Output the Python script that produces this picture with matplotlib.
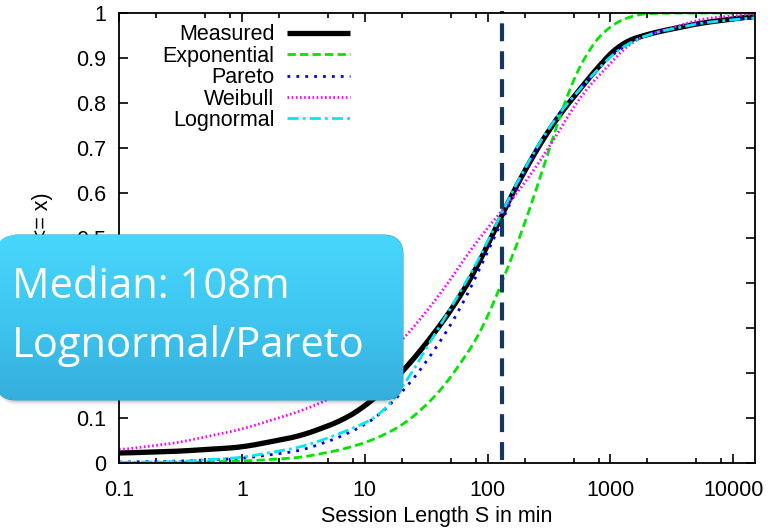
import numpy as np
import matplotlib.pyplot as plt
from matplotlib.patches import FancyBboxPatch
from matplotlib.ticker import FixedLocator, NullFormatter
from matplotlib.colors import LinearSegmentedColormap

plt.rcParams['font.family'] = ['Liberation Sans', 'DejaVu Sans']

# CDF curves (session length in minutes -> P(S <= x))
measured_x = [0.1, 0.3, 1, 3, 6.4, 10, 14, 20, 35, 57, 88, 129, 214, 350, 580, 850, 1220, 2130, 5500, 15000]
measured_y = [0.022, 0.026, 0.035, 0.06, 0.093, 0.125, 0.16, 0.20, 0.28, 0.36, 0.45, 0.55, 0.665, 0.76, 0.835,
              0.89, 0.934, 0.955, 0.978, 0.993]

expo_x = [0.1, 0.3, 1, 3, 6.4, 11.8, 22, 41.7, 69, 93, 123, 177, 225, 311, 454, 660, 950, 1600, 3000, 15000]
expo_y = [0.0, 0.001, 0.004, 0.012, 0.029, 0.051, 0.089, 0.16, 0.245, 0.30, 0.385, 0.49, 0.57, 0.69, 0.83,
          0.92, 0.97, 0.998, 1.0, 1.0]

pareto_x = [0.1, 0.3, 1, 3, 6.4, 11.8, 20, 32, 47, 57, 93, 137, 214, 350, 580, 850, 1220, 2130, 5500, 15000]
pareto_y = [0.002, 0.004, 0.01, 0.027, 0.058, 0.095, 0.155, 0.225, 0.295, 0.33, 0.45, 0.55, 0.665, 0.765,
            0.835, 0.885, 0.925, 0.955, 0.978, 0.99]

weibull_x = [0.1, 0.3, 1, 3, 5.6, 10, 20, 40, 80, 130, 200, 350, 580, 850, 1500, 5500, 15000]
weibull_y = [0.029, 0.045, 0.075, 0.115, 0.146, 0.20, 0.27, 0.37, 0.49, 0.56, 0.62, 0.72, 0.82, 0.867, 0.94,
             0.987, 0.998]

lognormal_x = [0.1, 0.3, 1, 3, 5, 10, 14, 22, 28.5, 39, 57, 88, 129, 214, 350, 580, 850, 1220, 2130, 5500, 15000]
lognormal_y = [0.001, 0.003, 0.012, 0.035, 0.055, 0.088, 0.11, 0.18, 0.235, 0.295, 0.37, 0.46, 0.555, 0.67,
               0.765, 0.835, 0.885, 0.925, 0.955, 0.978, 0.99]

median_line = 130
y_ticks = [0, 0.1, 0.2, 0.3, 0.4, 0.5, 0.6, 0.7, 0.8, 0.9, 1]
y_tick_labels = ['0', '0.1', '0.2', '0.3', '0.4', '0.5', '0.6', '0.7', '0.8', '0.9', '1']
x_ticks = [0.1, 1, 10, 100, 1000, 10000]
x_tick_labels = ['0.1', '1', '10', '100', '1000', '10000']

FS = 15.5


def smooth(xs, ys):
    # interpolate in log-x and soften the corners so the lines look like curves
    lx = np.log10(xs)
    grid = np.linspace(lx[0], lx[-1], 400)
    fine = np.interp(grid, lx, ys)
    k = 9
    pad = np.concatenate([np.full(k, fine[0]), fine, np.full(k, fine[-1])])
    fine = np.convolve(pad, np.ones(2 * k + 1) / (2 * k + 1), mode='same')[k:-k]
    return 10 ** grid, fine


fig = plt.figure(figsize=(7.71, 5.32), dpi=100)
ax = fig.add_axes([119 / 771, 1 - 463 / 532, (755 - 119) / 771, 450 / 532])

x, y = smooth(measured_x, measured_y)
ax.plot(x, y, color='black', lw=3.8, label='Measured', solid_capstyle='butt')
x, y = smooth(expo_x, expo_y)
ax.plot(x, y, color='#00e600', lw=2.0, dashes=(3, 1.5), label='Exponential')
x, y = smooth(pareto_x, pareto_y)
ax.plot(x, y, color='#0000f0', lw=2.0, dashes=(1, 2.2), label='Pareto')
x, y = smooth(weibull_x, weibull_y)
ax.plot(x, y, color='#ff00ff', lw=2.0, dashes=(0.6, 0.9), label='Weibull')
x, y = smooth(lognormal_x, lognormal_y)
ax.plot(x, y, color='#00e8f0', lw=2.0, dashes=(4, 1.5, 1, 1.5), label='Lognormal')

ax.axvline(median_line, ymin=0.007, ymax=1.005, color='#17375e', lw=3, dashes=(4.3, 2.4), clip_on=False)

ax.set_xscale('log')
ax.set_xlim(0.1, 15000)
ax.set_ylim(0, 1)
ax.set_xticks(x_ticks)
ax.set_xticklabels(x_tick_labels)
minors = [m * 10.0 ** e for e in range(-1, 5) for m in (2, 5, 8) if m * 10.0 ** e < 15000]
ax.xaxis.set_minor_locator(FixedLocator(minors))
ax.xaxis.set_minor_formatter(NullFormatter())
ax.set_yticks(y_ticks)
ax.set_yticklabels(y_tick_labels)
ax.tick_params(which='both', direction='in', top=True, right=True, labelsize=FS, width=1.2)
ax.tick_params(axis='y', which='major', length=6.5, pad=9)
ax.tick_params(axis='x', which='major', length=6.5, pad=12)
ax.tick_params(which='minor', length=3.5)
for s in ax.spines.values():
    s.set_linewidth(1.3)

ax.set_xlabel('Session Length S in min', fontsize=FS, labelpad=4)
ax.set_ylabel('P(S <= x)', fontsize=FS, labelpad=17)

leg = ax.legend(loc='upper right', bbox_to_anchor=(0.363, 0.975), frameon=False, markerfirst=False,
                fontsize=FS, handlelength=2.9, handletextpad=0.6, labelspacing=0.02,
                borderaxespad=0, borderpad=0)

# callout box on top of the chart
ov = fig.add_axes([0, 0, 1, 1], zorder=10)
ov.set_xlim(0, 771)
ov.set_ylim(532, 0)
ov.axis('off')
for i, a in enumerate([0.06, 0.05, 0.04, 0.03]):
    sh = FancyBboxPatch((-2, 239 + i), 405, 163, boxstyle='round,pad=0,rounding_size=20',
                        fc='#000000', ec='none', alpha=a)
    ov.add_patch(sh)
box = FancyBboxPatch((-4, 235), 407, 165, boxstyle='round,pad=0,rounding_size=20',
                     fc='none', ec='#2f9fcc', lw=0.8)
ov.add_patch(box)
cmap = LinearSegmentedColormap.from_list('callout', ['#48d6fb', '#3ec6f1', '#36aedc'])
grad = np.linspace(0, 1, 256).reshape(-1, 1)
im = ov.imshow(grad, cmap=cmap, extent=(-4, 403, 400, 235), aspect='auto', zorder=1)
im.set_clip_path(box)
ov.set_xlim(0, 771)
ov.set_ylim(532, 0)
ov.text(12, 298, 'Median: 108m', color='white', fontsize=30, family='Open Sans', zorder=3)
ov.text(12, 357, 'Lognormal/Pareto', color='white', fontsize=30, family='Open Sans', zorder=3)

fig.savefig('out.png', dpi=100)
